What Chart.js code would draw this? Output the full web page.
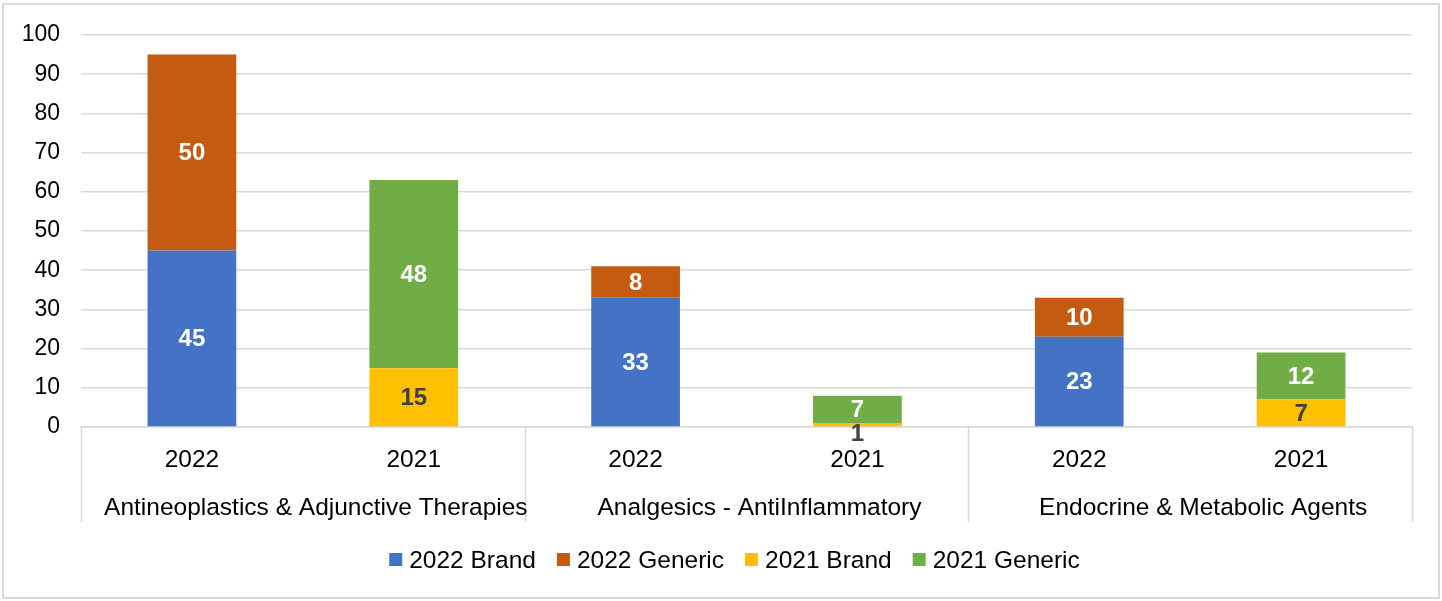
<!DOCTYPE html>
<html>
<head>
<meta charset="utf-8">
<script src="https://cdn.jsdelivr.net/npm/chart.js@4.4.1/dist/chart.umd.min.js"></script>
<style>
  html, body { margin: 0; padding: 0; background: #fff; }
  #wrap { width: 1442px; height: 601px; position: relative; }
</style>
</head>
<body>
<div id="wrap"><canvas id="chart"></canvas></div>
<script>
// Datos
const years = ['2022', '2021', '2022', '2021', '2022', '2021'];
const groups = ['Antineoplastics & Adjunctive Therapies', 'Analgesics - AntiInflammatory', 'Endocrine & Metabolic Agents'];
const brand2022 = [45, null, 33, null, 23, null];
const generic2022 = [50, null, 8, null, 10, null];
const brand2021 = [null, 15, null, 1, null, 7];
const generic2021 = [null, 48, null, 7, null, 12];
const yMax = 100;
const yStep = 10;

const FONT = '"Liberation Sans", Arial, sans-serif';
const GRID = '#d9d9d9';
const LABEL_SIZE = 24.5;

const series = [
    { label: '2022 Brand', data: brand2022, color: '#4472C4', text: '#ffffff' },
    { label: '2022 Generic', data: generic2022, color: '#C55A11', text: '#ffffff' },
    { label: '2021 Brand', data: brand2021, color: '#FFC000', text: '#404040' },
    { label: '2021 Generic', data: generic2021, color: '#70AD47', text: '#ffffff' },
];

// Plugin: borde, etiquetas de datos, categorías agrupadas y leyenda
const extras = {
    id: 'extras',
    beforeDraw(chart) {
        const ctx = chart.ctx;
        ctx.save();
        ctx.strokeStyle = GRID;
        ctx.lineWidth = 2;
        ctx.strokeRect(3, 4, chart.width - 6, chart.height - 7);
        ctx.restore();
    },
    afterDatasetsDraw(chart) {
        const ctx = chart.ctx;
        ctx.save();
        ctx.font = 'bold 24px ' + FONT;
        ctx.textAlign = 'center';
        ctx.textBaseline = 'middle';
        chart.data.datasets.forEach((ds, i) => {
            const meta = chart.getDatasetMeta(i);
            meta.data.forEach((bar, j) => {
                const v = ds.data[j];
                if (v == null) return;
                const h = bar.base - bar.y;
                let y = (bar.y + bar.base) / 2;
                // etiquetas muy pequeñas quedan debajo de la barra
                if (h < 12) y = bar.base + 7;
                ctx.fillStyle = h < 12 ? '#404040' : series[i].text;
                ctx.fillText(String(v), bar.x, y + 1);
            });
        });
        ctx.restore();
    },
    afterDraw(chart) {
        const ctx = chart.ctx;
        const area = chart.chartArea;
        const per = years.length / groups.length;
        const step = (area.right - area.left) / years.length;
        ctx.save();
        // separadores verticales
        ctx.strokeStyle = GRID;
        ctx.lineWidth = 1.5;
        for (let g = 0; g <= groups.length; g++) {
            const px = Math.round(area.left + g * per * step) + 0.5;
            ctx.beginPath();
            ctx.moveTo(px, area.bottom);
            ctx.lineTo(px, area.bottom + 95);
            ctx.stroke();
        }
        // nombres de grupo (en el original van algo desplazados a la derecha)
        ctx.fillStyle = '#000';
        ctx.font = LABEL_SIZE + 'px ' + FONT;
        ctx.textAlign = 'center';
        ctx.textBaseline = 'middle';
        groups.forEach((name, g) => {
            const cx = area.left + (g * per + per / 2) * step + 13;
            ctx.fillText(name, cx, 508);
        });
        // leyenda
        const box = 13, gap = 7, spacing = 21;
        const widths = series.map(s => box + gap + ctx.measureText(s.label).width);
        const total = widths.reduce((a, b) => a + b, 0) + spacing * (series.length - 1);
        let lx = 734.5 - total / 2;
        const ly = 560;
        ctx.textAlign = 'left';
        series.forEach((s, i) => {
            ctx.fillStyle = s.color;
            ctx.fillRect(lx, ly - 7, box, box);
            ctx.fillStyle = '#000';
            ctx.fillText(s.label, lx + box + gap, ly + 1);
            lx += widths[i] + spacing;
        });
        ctx.restore();
    }
};

new Chart(document.getElementById('chart').getContext('2d'), {
    type: 'bar',
    data: {
        labels: years,
        datasets: series.map(s => ({
            label: s.label,
            data: s.data,
            backgroundColor: s.color,
            borderWidth: 0,
            barPercentage: 0.4,
            categoryPercentage: 1,
        })),
    },
    options: {
        responsive: true,
        maintainAspectRatio: false,
        animation: false,
        layout: { padding: { left: 0, right: 30, top: 35, bottom: 79 } },
        plugins: {
            legend: { display: false },
            tooltip: { enabled: false },
        },
        scales: {
            x: {
                stacked: true,
                grid: { display: false, drawTicks: false },
                border: { display: true, color: GRID, width: 1.5 },
                ticks: { color: '#000', font: { family: FONT, size: LABEL_SIZE }, padding: 19, maxRotation: 0 },
                afterFit(scale) { scale.height = 95; },
            },
            y: {
                stacked: true,
                min: 0,
                max: yMax,
                grid: { color: GRID, lineWidth: 1.5, drawTicks: false },
                border: { display: false },
                ticks: { stepSize: yStep, color: '#000', font: { family: FONT, size: 23 }, padding: 21 },
                afterFit(scale) { scale.width = 81; },
            },
        },
    },
    plugins: [extras],
});
</script>
</body>
</html>
